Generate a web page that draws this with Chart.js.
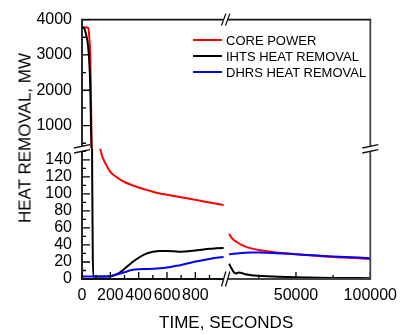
<!DOCTYPE html>
<html lang="en">
  <head>
    <meta charset="utf-8" />
    <title>Heat removal vs time</title>
    <style>
      * {
        margin: 0;
        padding: 0;
      }
      body {
        width: 404px;
        height: 335px;
        background: #fff;
        position: relative;
        overflow: hidden;
        font-family: "Liberation Sans", Arial, sans-serif;
        color: #000;
      }
      #myChart {
        position: absolute;
        left: 0;
        top: 0;
      }
      .yTitle {
        position: absolute;
        left: 25px;
        top: 138px;
        font-size: 17px;
        line-height: 1;
        white-space: nowrap;
        transform: translate(-50%, -50%) rotate(-90deg);
      }
      .legend {
        position: absolute;
        left: 193px;
        top: 32.5px;
        font-size: 13px;
      }
      .legend .row {
        display: flex;
        align-items: center;
        height: 15.85px;
        white-space: nowrap;
      }
      .legend .swatch {
        width: 29px;
        height: 2px;
        margin-right: 4px;
      }
    </style>
  </head>
  <body>
    <canvas id="myChart" width="404" height="335"></canvas>
    <div class="yTitle">HEAT REMOVAL, MW</div>
    <div class="legend" id="legend"></div>

    <script src="https://cdn.jsdelivr.net/npm/chart.js@4.4.1/dist/chart.umd.min.js"></script>

    <script>
      // data block
      const seriesNames = ["CORE POWER", "IHTS HEAT REMOVAL", "DHRS HEAT REMOVAL"];
      const seriesColors = ["#ff0000", "#000000", "#0000ff"];

      // first 1000 s (left part of the time axis)
      const earlyTime = [0, 15, 25, 35, 40, 46, 50, 55, 58, 61, 64, 66, 68, 72, 76, 80, 100, 133, 175, 200,
        250, 300, 350, 400, 450, 500, 550, 600, 650, 700, 750, 800, 850, 900, 950, 1000];
      const coreEarly = [3780, 3780, 3780, 3775, 3770, 3740, 3580, 3300, 3050, 2400, 1700, 1000, 380, 260, 235,
        220, 190, 150, 133, 126, 119, 114, 110.5, 107.5, 105, 102.5, 100.5, 99, 97.5, 96, 94.5, 93, 91.5, 90, 88.5, 87];
      const ihtsEarly = [3780, 3760, 3640, 3470, 3350, 3120, 2900, 2500, 2150, 1500, 900, 560, 320, 120, 30,
        3, 3, 3, 3, 3.5, 6, 12, 19, 25, 29.5, 32, 33, 33, 32.5, 32, 32.5, 33.5, 34.5, 35.5, 36, 36.5];
      const dhrsEarly = [3, 3, 3, 3, 3, 3, 3, 3, 3, 3, 3, 3, 3, 3, 3, 3, 3, 3, 3, 3,
        5.5, 8, 10.5, 11.5, 11.7, 12, 12.5, 13.5, 15, 16.5, 18.5, 20.5, 22, 23.5, 25, 26];

      // long term (right part of the time axis)
      const lateTime = [5000, 6500, 8000, 9500, 11500, 13500, 16000, 20000, 25000, 35000, 50000, 65000, 75000, 100000];
      const coreLate = [53, 49, 46, 44.3, 42, 40, 38, 36, 34, 31.5, 29, 27, 25.8, 23.5];
      const ihtsLate = [18, 13, 8.5, 6.5, 7.5, 7, 5.5, 4.5, 3.8, 2.8, 2, 1.5, 1.3, 1];
      const dhrsLate = [29, 29.3, 29.6, 29.9, 30.2, 30.5, 30.8, 31, 31, 30.6, 29, 27.5, 26.5, 24.5];

      // axis ticks (unlabelled ones are minor marks)
      const leftTimeTicks = [0, 100, 200, 300, 400, 500, 600, 700, 800, 900];
      const leftTimeLabels = [0, 200, 400, 600, 800];
      const rightTimeTicks = [25000, 50000, 75000, 100000];
      const rightTimeLabels = [50000, 100000];
      const topPowerTicks = [500, 1000, 1500, 2000, 2500, 3000, 3500, 4000];
      const topPowerLabels = [1000, 2000, 3000, 4000];
      const lowPowerTicks = [0, 10, 20, 30, 40, 50, 60, 70, 80, 90, 100, 110, 120, 130, 140, 150];
      const lowPowerLabels = [0, 20, 40, 60, 80, 100, 120, 140];

      const early = [coreEarly, ihtsEarly, dhrsEarly];
      const late = [coreLate, ihtsLate, dhrsLate];

      const toPoints = (xs, ys) => xs.map((x, i) => ({ x: x, y: ys[i] }));

      // each series is drawn in the three panels that hold data
      const datasets = [];
      seriesNames.forEach((name, i) => {
        const base = {
          label: name,
          borderColor: seriesColors[i],
          borderWidth: 2,
          pointRadius: 0,
          fill: false,
          cubicInterpolationMode: "monotone",
          order: 2 - i,
        };
        datasets.push({ ...base, data: toPoints(earlyTime, early[i]), xAxisID: "xl", yAxisID: "yt" });
        datasets.push({ ...base, data: toPoints(earlyTime, early[i]), xAxisID: "xl", yAxisID: "yb" });
        datasets.push({ ...base, data: toPoints(lateTime, late[i]), xAxisID: "xr", yAxisID: "yb" });
      });

      // html legend
      const legendBox = document.getElementById("legend");
      seriesNames.forEach((name, i) => {
        const row = document.createElement("div");
        row.className = "row";
        const swatch = document.createElement("span");
        swatch.className = "swatch";
        swatch.style.background = seriesColors[i];
        const text = document.createElement("span");
        text.textContent = name;
        row.appendChild(swatch);
        row.appendChild(text);
        legendBox.appendChild(row);
      });

      const fontFamily = "'Liberation Sans', Arial, sans-serif";
      Chart.defaults.font.family = fontFamily;
      Chart.defaults.color = "#000";

      const tickFont = { family: fontFamily, size: 16 };

      function makeScale(opts, ticks, labels, isX) {
        return {
          type: "linear",
          position: isX ? "bottom" : "left",
          stack: isX ? "x" : "y",
          min: opts.min,
          max: opts.max,
          stackWeight: opts.stackWeight,
          weight: opts.weight,
          grid: { display: false, drawTicks: false },
          border: { display: false },
          afterBuildTicks: (scale) => {
            scale.ticks = ticks.map((v) => ({ value: v }));
          },
          afterFit: (scale) => {
            if (isX) scale.height = 34.6;
            else scale.width = 82;
          },
          ticks: {
            autoSkip: false,
            maxRotation: 0,
            minRotation: 0,
            padding: isX ? 7 : 10,
            font: tickFont,
            color: "#000",
            callback: (v) => (labels.includes(v) ? String(v) : ""),
          },
        };
      }

      // frame, inward ticks and the // break marks
      const axisFrame = {
        id: "axisFrame",
        afterDraw(chart) {
          const { ctx, chartArea: area } = chart;
          const { xl, xr, yt, yb } = chart.scales;
          const bx = xl.right;
          const by = yt.bottom;
          const seg = (x1, y1, x2, y2) => {
            ctx.moveTo(x1, y1);
            ctx.lineTo(x2, y2);
          };
          ctx.save();

          ctx.strokeStyle = "#000";
          ctx.lineWidth = 1.3;
          ctx.beginPath();
          [xl, xr].forEach((s) => {
            s.ticks.forEach((t) => {
              const px = s.getPixelForValue(t.value);
              seg(px, area.bottom, px, area.bottom - (t.label ? 7 : 4));
            });
          });
          [yt, yb].forEach((s) => {
            s.ticks.forEach((t) => {
              const py = s.getPixelForValue(t.value);
              seg(area.left, py, area.left + (t.label ? 8 : 4), py);
            });
          });
          ctx.stroke();

          // left / top spines are dark, right side a bit greyer
          ctx.lineWidth = 1.8;
          ctx.strokeStyle = "#111";
          ctx.beginPath();
          seg(area.left, area.top, area.left, by - 2.5);
          seg(area.left, by + 2.5, area.left, area.bottom);
          seg(area.left - 0.9, area.top, bx - 2, area.top);
          seg(bx + 2, area.top, area.right + 0.9, area.top);
          seg(area.left - 0.9, area.bottom, bx - 2, area.bottom);
          ctx.stroke();

          ctx.strokeStyle = "#444";
          ctx.beginPath();
          seg(bx + 2, area.bottom, area.right + 0.9, area.bottom);
          seg(area.right, area.top, area.right, by - 2.5);
          seg(area.right, by + 2.5, area.right, area.bottom);
          ctx.stroke();

          ctx.strokeStyle = "#111";
          ctx.lineWidth = 1.3;
          ctx.beginPath();
          [-2.5, 2.5].forEach((d) => {
            seg(area.left - 8, by + d + 1.7, area.left + 8, by + d - 1.7);
            seg(area.right - 8, by + d + 1.7, area.right + 8, by + d - 1.7);
          });
          [-2, 2].forEach((d) => {
            seg(bx + d - 2.2, area.top + 6, bx + d + 2.2, area.top - 6);
            seg(bx + d - 2.2, area.bottom + 7.5, bx + d + 2.2, area.bottom - 7.5);
          });
          ctx.stroke();
          ctx.restore();
        },
      };

      // config block
      const config = {
        type: "line",
        data: { datasets: datasets },
        options: {
          responsive: false,
          animation: false,
          parsing: false,
          layout: { padding: { top: 14, right: 31, bottom: 0, left: 0 } },
          plugins: {
            legend: { display: false },
            tooltip: { enabled: false },
            title: {
              display: true,
              text: "TIME, SECONDS",
              position: "bottom",
              fullSize: false,
              color: "#000",
              font: { family: fontFamily, size: 17, weight: "normal" },
              padding: { top: 0, bottom: 1 },
            },
          },
          scales: {
            xl: makeScale({ min: 0, max: 1014, stackWeight: 145, weight: 0 }, leftTimeTicks, leftTimeLabels, true),
            xr: makeScale({ min: 2700, max: 100000, stackWeight: 146, weight: 1 }, rightTimeTicks, rightTimeLabels, true),
            yt: makeScale({ min: 342, max: 4000, stackWeight: 132, weight: 1 }, topPowerTicks, topPowerLabels, false),
            yb: makeScale({ min: 0, max: 153, stackWeight: 133, weight: 0 }, lowPowerTicks, lowPowerLabels, false),
          },
        },
        plugins: [axisFrame],
      };

      // init render block
      const ctx = document.getElementById("myChart");
      const myChart = new Chart(ctx, config);
    </script>
  </body>
</html>
